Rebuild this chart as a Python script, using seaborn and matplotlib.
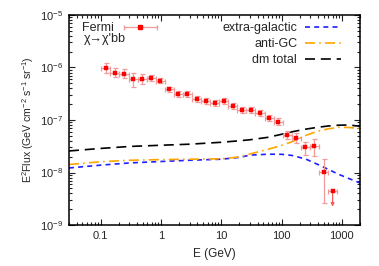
import matplotlib
matplotlib.use("Agg")
import numpy as np
import pandas as pd
import seaborn as sns
import matplotlib.pyplot as plt
from matplotlib.container import ErrorbarContainer
from matplotlib.legend_handler import HandlerErrorbar
from matplotlib.ticker import LogLocator, FixedLocator, FixedFormatter, NullFormatter

# Fermi points (bin centres, GeV) and E^2 flux
fermi_e = [0.122, 0.173, 0.245, 0.346, 0.489, 0.691, 0.977, 1.38, 1.95, 2.76,
           3.90, 5.51, 7.80, 11.0, 15.6, 22.0, 31.1, 44.0, 62.2, 87.9,
           124, 176, 248, 351, 496, 702]
fermi_bin_edges = [0.103, 0.146, 0.206, 0.291, 0.411, 0.582, 0.822, 1.16, 1.64,
                   2.32, 3.28, 4.64, 6.56, 9.27, 13.1, 18.5, 26.2, 37.0, 52.3,
                   73.9, 104.5, 147.9, 208.9, 295, 418, 590, 834]
fermi_flux = [9.66e-7, 7.85e-7, 7.62e-7, 6.12e-7, 5.96e-7, 6.40e-7, 5.53e-7,
              3.85e-7, 3.09e-7, 3.13e-7, 2.55e-7, 2.30e-7, 2.11e-7, 2.30e-7,
              1.87e-7, 1.55e-7, 1.53e-7, 1.34e-7, 1.09e-7, 9.16e-8,
              5.25e-8, 4.60e-8, 3.02e-8, 3.15e-8, 1.01e-8, 4.50e-9]
fermi_hi = [1.20e-6, 9.57e-7, 9.29e-7, 7.96e-7, 7.42e-7, 7.30e-7, 6.17e-7,
            4.30e-7, 3.53e-7, 3.57e-7, 2.91e-7, 2.62e-7, 2.41e-7, 2.62e-7,
            2.13e-7, 1.77e-7, 1.75e-7, 1.53e-7, 1.27e-7, 1.07e-7,
            6.26e-8, 5.73e-8, 3.80e-8, 4.39e-8, 1.79e-8, 4.50e-9]
fermi_lo = [7.76e-7, 6.44e-7, 6.25e-7, 4.31e-7, 4.79e-7, 5.61e-7, 4.96e-7,
            3.45e-7, 2.71e-7, 2.74e-7, 2.23e-7, 2.02e-7, 1.85e-7, 2.02e-7,
            1.64e-7, 1.36e-7, 1.34e-7, 1.17e-7, 9.36e-8, 7.86e-8,
            4.40e-8, 3.69e-8, 2.13e-8, 2.06e-8, 2.59e-9, 4.50e-9]
# last point is an upper limit, arrow goes down to this value
ul_arrow_end = 2.23e-9

# model curves
model_e = [0.03, 0.1, 0.3, 1, 3, 10, 20, 30, 60, 100, 150, 250, 400, 600, 900, 1300, 2000]
extra_galactic = [1.22e-8, 1.38e-8, 1.52e-8, 1.62e-8, 1.71e-8, 1.79e-8, 1.94e-8,
                  2.14e-8, 2.23e-8, 2.22e-8, 2.11e-8, 1.81e-8, 1.42e-8, 1.14e-8,
                  9.16e-9, 7.69e-9, 6.31e-9]
anti_gc = [1.42e-8, 1.60e-8, 1.71e-8, 1.76e-8, 1.79e-8, 1.82e-8, 1.98e-8,
           2.25e-8, 2.77e-8, 3.27e-8, 3.86e-8, 5.07e-8, 6.12e-8, 6.80e-8,
           7.23e-8, 7.20e-8, 6.89e-8]
dm_total = [2.57e-8, 2.87e-8, 3.13e-8, 3.30e-8, 3.46e-8, 3.76e-8, 4.02e-8,
            4.20e-8, 4.68e-8, 5.34e-8, 5.96e-8, 6.68e-8, 7.26e-8, 7.69e-8,
            7.96e-8, 8.03e-8, 7.58e-8]

x_ticks = [0.1, 1, 10, 100, 1000]
x_ticklabels = ["0.1", "1", "10", "100", "1000"]
y_ticks = [1e-9, 1e-8, 1e-7, 1e-6, 1e-5]
y_ticklabels = [r"$10^{-9}$", r"$10^{-8}$", r"$10^{-7}$", r"$10^{-6}$", r"$10^{-5}$"]

sns.set_style("ticks")
plt.rcParams["font.family"] = ["Liberation Sans", "DejaVu Sans"]
plt.rcParams["mathtext.default"] = "regular"
plt.rcParams["xtick.direction"] = "in"
plt.rcParams["ytick.direction"] = "in"

fig = plt.figure(figsize=(3.79, 2.66), dpi=100)
ax = fig.add_axes([0.182, 0.154, 0.768, 0.79])

e = np.array(fermi_e)
f = np.array(fermi_flux)
edges = np.array(fermi_bin_edges)
xerr = [e - edges[:-1], edges[1:] - e]
yerr = [f - np.array(fermi_lo), np.array(fermi_hi) - f]

err_col = "#f29a9a"
ax.errorbar(e, f, xerr=xerr, yerr=yerr, fmt="none", ecolor=err_col,
            elinewidth=0.9, capsize=1.8, capthick=0.9, zorder=3)
ax.annotate("", xy=(e[-1], ul_arrow_end), xytext=(e[-1], f[-1]),
            arrowprops=dict(arrowstyle="-|>", color="#f06060", lw=0.9,
                            mutation_scale=5, shrinkA=0, shrinkB=0), zorder=3)
sns.scatterplot(x=e, y=f, marker="s", s=7, color="red", edgecolor="red",
                linewidth=0.3, ax=ax, zorder=4)

curves = pd.DataFrame({"E": model_e, "eg": extra_galactic,
                       "agc": anti_gc, "dm": dm_total})
sns.lineplot(data=curves, x="E", y="eg", color="#1f1fff", lw=1.2,
             linestyle=(0, (3, 2.5)), label="extra-galactic", ax=ax)
sns.lineplot(data=curves, x="E", y="agc", color="orange", lw=1.2,
             linestyle=(0, (6, 2.5, 1, 2.5)), label="anti-GC", ax=ax)
sns.lineplot(data=curves, x="E", y="dm", color="black", lw=1.2,
             linestyle=(0, (6, 3.5)), label="dm total", ax=ax)

ax.set_xscale("log")
ax.set_yscale("log")
ax.set_xlim(0.03, 2000)
ax.set_ylim(1e-9, 1e-5)
ax.xaxis.set_major_locator(FixedLocator(x_ticks))
ax.xaxis.set_major_formatter(FixedFormatter(x_ticklabels))
ax.xaxis.set_minor_locator(LogLocator(base=10, subs=np.arange(2, 10), numticks=20))
ax.xaxis.set_minor_formatter(NullFormatter())
ax.yaxis.set_major_locator(FixedLocator(y_ticks))
ax.yaxis.set_major_formatter(FixedFormatter(y_ticklabels))
ax.yaxis.set_minor_locator(LogLocator(base=10, subs=np.arange(2, 10), numticks=20))
ax.yaxis.set_minor_formatter(NullFormatter())
ax.tick_params(which="both", top=True, right=True, labelsize=8, width=0.8,
               color="#222222")
ax.tick_params(which="major", length=4.5, pad=4)
ax.tick_params(which="minor", length=2.2)
for s in ax.spines.values():
    s.set_linewidth(1.1)
    s.set_color("black")

ax.set_xlabel("E (GeV)", fontsize=8.5, labelpad=5)
ax.set_ylabel(r"E$^2$Flux (GeV cm$^{-2}$ s$^{-1}$ sr$^{-1}$)", fontsize=7.6, labelpad=3)

handles, labels = ax.get_legend_handles_labels()
leg_lines = ax.legend(handles, labels, loc="upper right", frameon=False,
                      fontsize=9, markerfirst=False, handlelength=2.9,
                      labelspacing=0.3, borderaxespad=0.2, handletextpad=0.6,
                      bbox_to_anchor=(0.96, 1.0))
ax.add_artist(leg_lines)

# dummy point outside the view, only used as the legend handle
fermi_handle = ax.errorbar([1.0], [1e-20], xerr=[0.5], fmt="s", color="red",
                           ms=2.5, ecolor=err_col, elinewidth=0.9, capsize=1.8)
ax.legend([fermi_handle], ["Fermi"], loc="upper left", frameon=False,
          fontsize=9, markerfirst=False, handlelength=3.0,
          borderaxespad=0.2, handletextpad=0.6, bbox_to_anchor=(0.02, 1.0),
          handler_map={ErrorbarContainer: HandlerErrorbar(xerr_size=1.3)})
ax.text(0.052, 0.884, "χ→χ'bb", transform=ax.transAxes, fontsize=9,
        va="center", ha="left")

fig.savefig("out.png", dpi=100)
